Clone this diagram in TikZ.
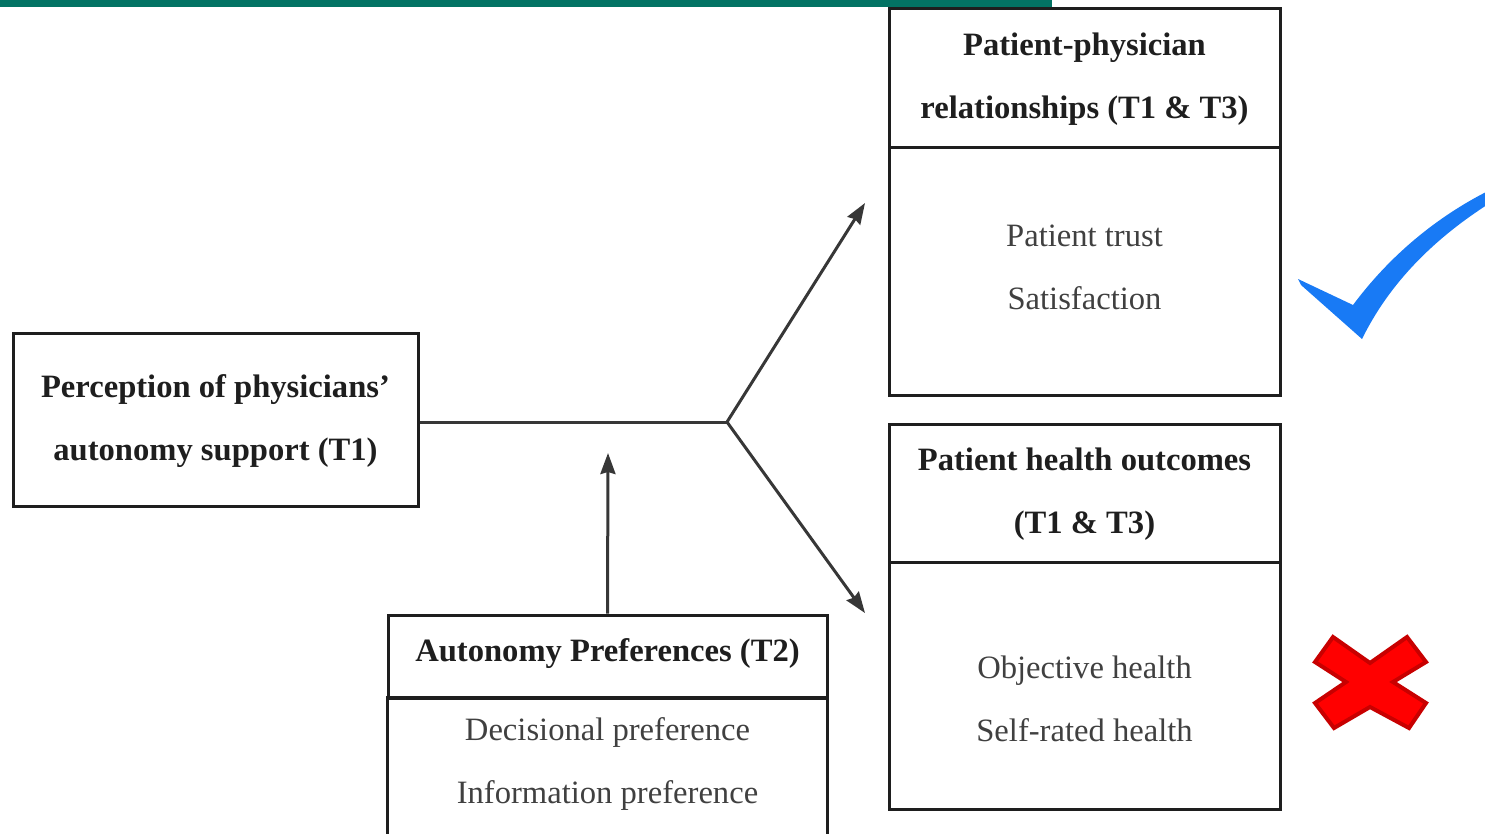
\documentclass[tikz,border=0pt]{standalone}
\usepackage{fontspec}
\setmainfont{Liberation Serif}
\usetikzlibrary{arrows.meta}
\definecolor{barteal}{RGB}{3,115,100}
\definecolor{tickblue}{RGB}{24,122,245}
\definecolor{crossred}{RGB}{255,0,0}
\definecolor{crossedge}{RGB}{200,0,0}
\definecolor{ink}{RGB}{30,30,30}
\definecolor{wire}{RGB}{55,55,55}

\begin{document}
\begin{tikzpicture}[x=1pt,y=-1pt,
  frame/.style={draw=ink, line width=3pt, inner sep=0pt, rectangle},
  headtxt/.style={font=\fontsize{32.6}{63}\selectfont\bfseries, align=center, text=ink, inner sep=0pt},
  bodytxt/.style={font=\fontsize{32.6}{63}\selectfont, align=center, text=ink!85, inner sep=0pt},
  link/.style={draw=wire, line width=3pt},
  arrowlink/.style={link, -{Stealth[length=21pt,width=15pt,inset=2pt]}},
]
\useasboundingbox (0,0) rectangle (1485,833);

% top banner strip
\fill[barteal] (0,0) rectangle (1052,7);

% predictor box
\node[frame, minimum width=405pt, minimum height=173pt] (perc) at (215.5,420) {};
\node[headtxt] (percT) at (215.5,421) {Perception of physicians’\\autonomy support (T1)};

% relationship outcomes
\node[frame, minimum width=391pt, minimum height=139pt] (relH) at (1084.5,77.5) {};
\node[frame, minimum width=391pt, minimum height=248pt] (relB) at (1084.5,271) {};
\node[headtxt] (relHT) at (1084.5,79) {Patient-physician\\relationships (T1 \& T3)};
\node[bodytxt] (relBT) at (1084.5,267) {Patient trust\\Satisfaction};

% health outcomes
\node[frame, minimum width=391pt, minimum height=138pt] (hltH) at (1084.5,493) {};
\node[frame, minimum width=391pt, minimum height=247pt] (hltB) at (1084.5,685.5) {};
\node[headtxt] (hltHT) at (1084.5,494) {Patient health outcomes\\(T1 \& T3)};
\node[bodytxt] (hltBT) at (1084.5,699) {Objective health\\Self-rated health};

% moderator box (runs past the lower edge)
\node[frame, minimum width=439pt, minimum height=83pt] (prefH) at (607.5,656.5) {};
\node[inner sep=0pt, minimum width=439pt, minimum height=140pt] (prefB) at (607.5,768) {};
\draw[ink, line width=3pt] (prefB.south west) -- (prefB.north west) -- (prefB.north east) -- (prefB.south east);
\node[headtxt] (prefHT) at (607.5,654) {Autonomy Preferences (T2)};
\node[bodytxt] (prefBT) at (607.5,764) {Decisional preference\\Information preference};

% connectors
\coordinate (fork) at (727,422);
\coordinate (tipUp) at (865,203);
\coordinate (tipDown) at (865,613);
\coordinate (tipMod) at (608,453);
\draw[link] (perc.east |- fork) -- (fork);
\draw[arrowlink] (fork) -- (tipUp);
\draw[arrowlink] (fork) -- (tipDown);
\draw[arrowlink] (prefH.north) -- (tipMod);

% supported mark
\fill[tickblue] (1298,279) -- (1353,305)
  .. controls (1385,262) and (1430,220) .. (1490,190)
  -- (1490,203)
  .. controls (1435,238) and (1390,282) .. (1362,339)
  -- (1301,285) -- cycle;

% unsupported mark
\filldraw[fill=crossred, draw=crossedge, line width=4pt, line join=miter]
  (1333,637) -- (1370,663) -- (1407,637) -- (1426,662) -- (1393,682)
  -- (1426,703) -- (1409,728) -- (1370,707) -- (1334,728) -- (1315,703)
  -- (1346,682) -- (1315,662) -- cycle;
\end{tikzpicture}
\end{document}
